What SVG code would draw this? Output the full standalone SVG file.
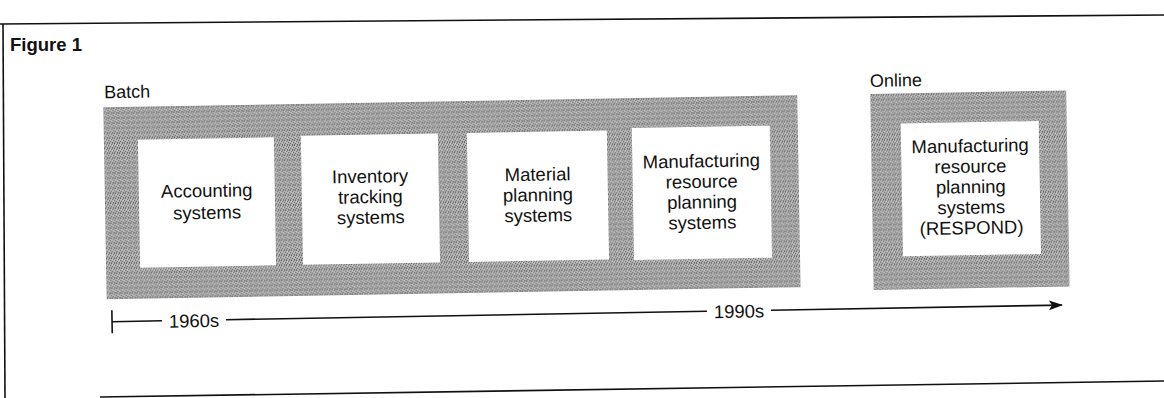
<svg xmlns="http://www.w3.org/2000/svg" width="1164" height="398" viewBox="0 0 1164 398">
<defs>
<pattern id="halftone" patternUnits="userSpaceOnUse" width="5" height="5">
<rect width="5" height="5" fill="#b2b2b2"/>
<rect x="0" y="0" width="1" height="1" fill="#5e5e5e"/>
<rect x="2" y="1" width="1" height="1" fill="#6a6a6a"/>
<rect x="4" y="2" width="1" height="1" fill="#5e5e5e"/>
<rect x="1" y="3" width="1" height="1" fill="#666"/>
<rect x="3" y="4" width="1" height="1" fill="#5e5e5e"/>
<rect x="3" y="0" width="1" height="1" fill="#7a7a7a"/>
<rect x="0" y="4" width="1" height="1" fill="#7a7a7a"/>
<rect x="1" y="1" width="1" height="1" fill="#d0d0d0"/>
<rect x="3" y="2" width="1" height="1" fill="#d0d0d0"/>
</pattern>
<marker id="arrow" markerWidth="14" markerHeight="10" refX="13" refY="5" orient="auto" markerUnits="userSpaceOnUse">
<path d="M0,0 L14,5 L0,10 L3,5 Z" fill="#111"/>
</marker>
<style>
.lbl{font-family:"Liberation Sans",Arial,sans-serif;font-size:18.5px;fill:#111;text-anchor:middle}
.hdr{font-family:"Liberation Sans",Arial,sans-serif;font-size:18px;fill:#111}
.band{fill:url(#halftone)}
.box{fill:#fff}
.frame{stroke:#111;stroke-width:1.6;fill:none}
.axis{stroke:#111;stroke-width:1.6;fill:none}
</style>
</defs>
<rect width="1164" height="398" fill="#fff"/>
<g id="frame">
<line class="frame" x1="0" y1="24" x2="1164" y2="15"/>
<line class="frame" x1="3" y1="24" x2="5" y2="398"/>
<line class="frame" x1="100" y1="397" x2="1164" y2="381"/>
<text x="10" y="51" class="hdr" font-weight="bold" style="font-size:18.5px">Figure 1</text>
</g>
<g transform="rotate(-1 580 200)">
<g id="batch">
<text x="106" y="90" class="hdr">Batch</text>
<rect class="band" x="105" y="99" width="694" height="192"/>
</g>
<g id="online">
<text x="872" y="92" class="hdr">Online</text>
<rect class="band" x="872" y="99" width="196" height="196"/>
</g>
<g id="accounting">
<rect class="box" x="139" y="132" width="136" height="128"/>
<text class="lbl"><tspan x="207" y="190.5">Accounting</tspan><tspan x="207" y="212.5">systems</tspan></text>
</g>
<g id="inventory">
<rect class="box" x="302" y="131" width="137" height="129"/>
<text class="lbl"><tspan x="370.5" y="179">Inventory</tspan><tspan x="370.5" y="199.5">tracking</tspan><tspan x="370.5" y="220">systems</tspan></text>
</g>
<g id="material">
<rect class="box" x="468" y="131" width="140" height="129"/>
<text class="lbl"><tspan x="538" y="180">Material</tspan><tspan x="538" y="200.5">planning</tspan><tspan x="538" y="221">systems</tspan></text>
</g>
<g id="mrp-batch">
<rect class="box" x="633" y="129" width="138" height="132"/>
<text class="lbl"><tspan x="702" y="169.5">Manufacturing</tspan><tspan x="702" y="190">resource</tspan><tspan x="702" y="210.5">planning</tspan><tspan x="702" y="231">systems</tspan></text>
</g>
<g id="mrp-online">
<rect class="box" x="902" y="129" width="138" height="133"/>
<text class="lbl"><tspan x="971" y="159">Manufacturing</tspan><tspan x="971" y="179.5">resource</tspan><tspan x="971" y="200">planning</tspan><tspan x="971" y="220.5">systems</tspan><tspan x="971" y="241">(RESPOND)</tspan></text>
</g>
<g id="connectors">
<line class="axis" x1="110" y1="302" x2="110" y2="325"/>
<line class="axis" x1="110" y1="313.5" x2="160" y2="313.5"/>
<line class="axis" x1="224" y1="313.5" x2="705" y2="313.5"/>
<line class="axis" x1="769" y1="313.5" x2="1060" y2="313.5" marker-end="url(#arrow)"/>
<text x="192" y="320.5" class="lbl">1960s</text>
<text x="737" y="320.5" class="lbl">1990s</text>
</g>
</g>
</svg>
